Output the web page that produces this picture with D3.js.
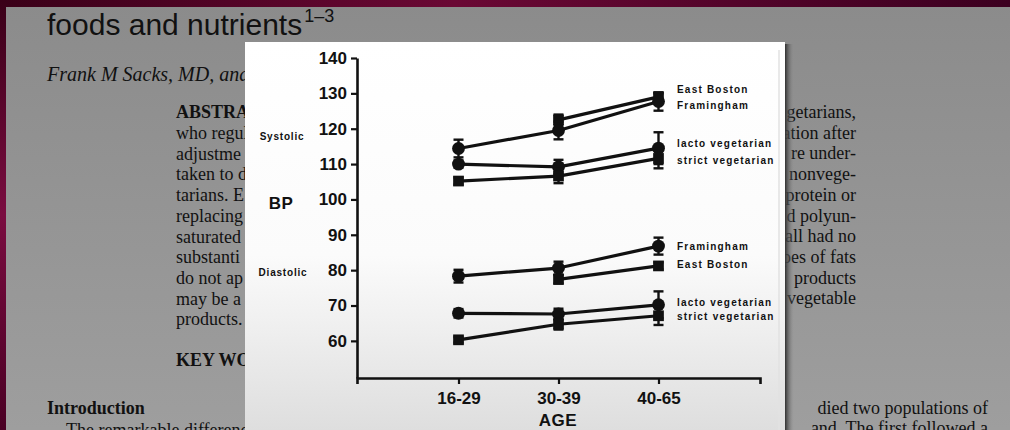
<!DOCTYPE html>
<html>
<head>
<meta charset="utf-8">
<script src="https://cdn.jsdelivr.net/npm/d3@7"></script>
<style>
  html, body { margin: 0; padding: 0; background: #8e8e8e; }
  svg { display: block; }
</style>
</head>
<body>
<svg id="c" width="1010" height="430"></svg>
<script>
// ---------- data ----------
const ages = ["16-29", "30-39", "40-65"];
const yTicks = [60, 70, 80, 90, 100, 110, 120, 130, 140];

const sysEastBoston = [null, 122.5, 129.0];
const sysEastBostonErr = [null, 1.5, 1.0];
const sysFramingham = [114.4, 119.5, 127.7];
const sysFraminghamErr = [2.5, 2.5, 2.6];
const sysLacto = [110.0, 109.2, 114.5];
const sysLactoErr = [1.0, 2.0, 4.5];
const sysStrict = [105.2, 106.6, 111.6];
const sysStrictErr = [1.0, 2.0, 2.8];

const diaFramingham = [78.3, 80.6, 86.8];
const diaFraminghamErr = [1.8, 1.8, 2.4];
const diaEastBoston = [null, 77.4, 81.2];
const diaEastBostonErr = [null, 1.2, 1.0];
const diaLacto = [67.8, 67.6, 70.2];
const diaLactoErr = [1.2, 1.5, 3.8];
const diaStrict = [60.3, 64.7, 67.1];
const diaStrictErr = [0.8, 1.5, 2.6];

const docLeft = ["who regul", "adjustme", "taken to d", "tarians. E", "replacing", "saturated",
                 "substanti", "do not ap", "may be a", "products."];
const docRight = ["getarians,", "ation after", "re under-", "nonvege-", "protein or", "d polyun-",
                  "all had no", "pes of fats", "products", "vegetable"];

(function () {
// ---------- page background ----------
const svg = d3.select("#c");
const defs = svg.append("defs");
function grad(id, x2, y2, stops) {
  const g = defs.append("linearGradient").attr("id", id).attr("x1", 0).attr("y1", 0).attr("x2", x2).attr("y2", y2);
  stops.forEach(s => g.append("stop").attr("offset", s[0]).attr("stop-color", s[1]).attr("stop-opacity", s[2] == null ? 1 : s[2]));
}
grad("bg", 0, 1, [["0%", "#8b8b8b"], ["100%", "#9e9e9e"]]);
grad("topbar", 1, 0, [["0%", "#3a0018"], ["45%", "#6a0834"], ["100%", "#3c0020"]]);
grad("side", 0, 1, [["0%", "#3a0018"], ["50%", "#7a0c40"], ["100%", "#4a0024"]]);
grad("panel", 0, 1, [["0%", "#ffffff"], ["55%", "#fbfbfb"], ["100%", "#dedede"]]);
grad("shadow", 1, 0, [["0%", "#303030"], ["100%", "#8e8e8e", 0]]);

svg.append("rect").attr("width", 1010).attr("height", 430).attr("fill", "url(#bg)");
svg.append("rect").attr("width", 1010).attr("height", 7).attr("fill", "url(#topbar)");
svg.append("rect").attr("width", 6).attr("height", 430).attr("fill", "url(#side)");

// ---------- document text ----------
const serif = "'Liberation Serif', 'DejaVu Serif', Times, serif";
const sans = "'Liberation Sans', Arial, Helvetica, sans-serif";
const title = svg.append("text").attr("x", 47).attr("y", 35)
  .style("font-family", sans).style("font-size", "30px").attr("fill", "#111");
title.append("tspan").text("foods and nutrients");
title.append("tspan").attr("dx", 2).attr("dy", -13).style("font-size", "18px").text("1\u20133");

svg.append("text").attr("x", 47).attr("y", 81).style("font-family", serif)
  .style("font-size", "20px").style("font-style", "italic").attr("fill", "#111")
  .text("Frank M Sacks, MD, and");

svg.append("text").attr("x", 176).attr("y", 118).style("font-family", serif)
  .style("font-size", "18px").style("font-weight", "bold").attr("fill", "#111").text("ABSTRACT");
svg.append("g").selectAll("text").data(docLeft).join("text")
  .attr("x", 176).attr("y", (d, i) => 139 + i * 20.7)
  .style("font-family", serif).style("font-size", "18px").attr("fill", "#111").text(d => d);
svg.append("text").attr("x", 176).attr("y", 366).style("font-family", serif)
  .style("font-size", "18px").style("font-weight", "bold").attr("fill", "#111").text("KEY WORDS");
svg.append("text").attr("x", 47).attr("y", 414).style("font-family", serif)
  .style("font-size", "18px").style("font-weight", "bold").attr("fill", "#111").text("Introduction");
svg.append("text").attr("x", 66).attr("y", 436).style("font-family", serif)
  .style("font-size", "18px").attr("fill", "#111").text("The remarkable difference");

svg.append("g").selectAll("text").data(docRight).join("text")
  .attr("x", 856).attr("y", (d, i) => 118 + i * 20.7).attr("text-anchor", "end")
  .style("font-family", serif).style("font-size", "18px").attr("fill", "#111").text(d => d);
svg.append("text").attr("x", 988).attr("y", 414).attr("text-anchor", "end").style("font-family", serif)
  .style("font-size", "18px").attr("fill", "#111").text("died two populations of");
svg.append("text").attr("x", 988).attr("y", 434).attr("text-anchor", "end").style("font-family", serif)
  .style("font-size", "18px").attr("fill", "#111").text("and. The first followed a");

// ---------- chart panel ----------
svg.append("rect").attr("x", 785).attr("y", 44).attr("width", 9).attr("height", 386).attr("fill", "url(#shadow)");
svg.append("rect").attr("x", 245).attr("y", 42).attr("width", 540).attr("height", 388).attr("fill", "url(#panel)");
svg.append("line").attr("x1", 779).attr("x2", 779).attr("y1", 50).attr("y2", 430)
  .attr("stroke", "#e2e2e2").attr("stroke-width", 1.5);

const x = d3.scalePoint().domain(ages).range([357, 760]).padding(1.015);
const y = d3.scaleLinear().domain([49.5, 140]).range([378, 58]);

const yAxis = svg.append("g").attr("transform", "translate(357,0)")
  .call(d3.axisLeft(y).tickValues(yTicks).tickSize(6).tickSizeOuter(0).tickPadding(4));
const xAxis = svg.append("g").attr("transform", "translate(0,378)")
  .call(d3.axisBottom(x).tickSize(6).tickSizeOuter(6).tickPadding(8));
[yAxis, xAxis].forEach(a => {
  a.select(".domain").attr("stroke", "#111").attr("stroke-width", 2.6);
  a.selectAll(".tick line").attr("stroke", "#111").attr("stroke-width", 2.2);
  a.selectAll(".tick text").attr("fill", "#111").style("font-family", sans)
    .style("font-size", "17px").style("font-weight", "bold");
});

// axis titles
const lab = (t, xx, yy, size, ls) => svg.append("text").attr("x", xx).attr("y", yy)
  .attr("text-anchor", "middle").attr("fill", "#111").style("font-family", sans)
  .style("font-size", size).style("font-weight", "bold").style("letter-spacing", ls).text(t);
lab("Systolic", 282, 140, "10px", "0.8px");
lab("BP", 281, 209, "17px", "0.5px");
lab("Diastolic", 283, 276, "10px", "0.8px");
lab("AGE", 558, 426, "17px", "0.5px");

// ---------- series ----------
const series = [
  { name: "East Boston", vals: sysEastBoston, err: sysEastBostonErr, shape: "square", dy: -7 },
  { name: "Framingham", vals: sysFramingham, err: sysFraminghamErr, shape: "circle", dy: 4 },
  { name: "lacto vegetarian", vals: sysLacto, err: sysLactoErr, shape: "circle", dy: -5 },
  { name: "strict vegetarian", vals: sysStrict, err: sysStrictErr, shape: "square", dy: 2 },
  { name: "Framingham", vals: diaFramingham, err: diaFraminghamErr, shape: "circle", dy: 0 },
  { name: "East Boston", vals: diaEastBoston, err: diaEastBostonErr, shape: "square", dy: -1 },
  { name: "lacto vegetarian", vals: diaLacto, err: diaLactoErr, shape: "circle", dy: -2 },
  { name: "strict vegetarian", vals: diaStrict, err: diaStrictErr, shape: "square", dy: 1 }
];

const line = d3.line().defined(d => d.v != null).x(d => x(d.a)).y(d => y(d.v));
const plot = svg.append("g");
series.forEach(s => {
  const pts = ages.map((a, i) => ({ a, v: s.vals[i], e: s.err[i] }));
  plot.append("path").datum(pts).attr("d", line).attr("fill", "none")
    .attr("stroke", "#111").attr("stroke-width", 3.2).attr("stroke-linejoin", "round");
  const valid = pts.filter(d => d.v != null);
  const eb = plot.append("g").selectAll("g").data(valid).join("g");
  eb.append("line").attr("x1", d => x(d.a)).attr("x2", d => x(d.a))
    .attr("y1", d => y(d.v - d.e)).attr("y2", d => y(d.v + d.e))
    .attr("stroke", "#111").attr("stroke-width", 2.4);
  [-1, 1].forEach(sg => {
    eb.append("line").attr("x1", d => x(d.a) - 5).attr("x2", d => x(d.a) + 5)
      .attr("y1", d => y(d.v + sg * d.e)).attr("y2", d => y(d.v + sg * d.e))
      .attr("stroke", "#111").attr("stroke-width", 2.4);
  });
  const sym = d3.symbol().type(s.shape === "circle" ? d3.symbolCircle : d3.symbolSquare).size(s.shape === "circle" ? 130 : 115);
  plot.append("g").selectAll("path").data(valid).join("path")
    .attr("d", sym).attr("transform", d => `translate(${x(d.a)},${y(d.v)})`)
    .attr("fill", "#111");
  const last = valid[valid.length - 1];
  svg.append("text").attr("x", 677).attr("y", y(last.v) + s.dy).attr("dy", "0.35em")
    .attr("fill", "#111").style("font-family", sans).style("font-size", "10px")
    .style("font-weight", "bold").style("letter-spacing", "1.2px").text(s.name);
});
})();
</script>
</body>
</html>
